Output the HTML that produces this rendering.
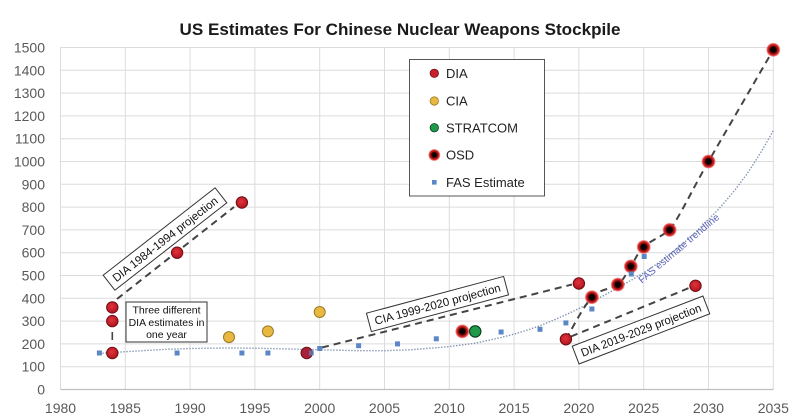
<!DOCTYPE html>
<html>
<head>
<meta charset="utf-8">
<style>
  html, body { margin:0; padding:0; background:#fff; }
  svg { display:block; }
  text { font-family: "Liberation Sans", Arial, sans-serif; }
</style>
</head>
<body>
<svg width="800" height="417" viewBox="0 0 800 417" xmlns="http://www.w3.org/2000/svg">
  <defs>
    <radialGradient id="osd" cx="50%" cy="50%" r="50%">
      <stop offset="0%" stop-color="#000"/>
      <stop offset="38%" stop-color="#140000"/>
      <stop offset="58%" stop-color="#9a1010"/>
      <stop offset="80%" stop-color="#e02a2a"/>
      <stop offset="100%" stop-color="#e84a4a" stop-opacity="0.35"/>
    </radialGradient>
    <radialGradient id="dia" cx="45%" cy="40%" r="60%">
      <stop offset="0%" stop-color="#e0343c"/>
      <stop offset="100%" stop-color="#b3131f"/>
    </radialGradient>
  </defs>
  <rect width="800" height="417" fill="#fff"/>

  <!-- Title -->
  <text x="400" y="35" text-anchor="middle" font-size="17" font-weight="bold" fill="#1a1a1a" textLength="441" lengthAdjust="spacingAndGlyphs">US Estimates For Chinese Nuclear Weapons Stockpile</text>

  <!-- Horizontal gridlines -->
  <g stroke="#dcdcdc" stroke-width="1">
    <line x1="60.5" y1="366.7" x2="773.3" y2="366.7"/>
    <line x1="60.5" y1="343.9" x2="773.3" y2="343.9"/>
    <line x1="60.5" y1="321.1" x2="773.3" y2="321.1"/>
    <line x1="60.5" y1="298.3" x2="773.3" y2="298.3"/>
    <line x1="60.5" y1="275.5" x2="773.3" y2="275.5"/>
    <line x1="60.5" y1="252.7" x2="773.3" y2="252.7"/>
    <line x1="60.5" y1="229.9" x2="773.3" y2="229.9"/>
    <line x1="60.5" y1="207.1" x2="773.3" y2="207.1"/>
    <line x1="60.5" y1="184.3" x2="773.3" y2="184.3"/>
    <line x1="60.5" y1="161.5" x2="773.3" y2="161.5"/>
    <line x1="60.5" y1="138.7" x2="773.3" y2="138.7"/>
    <line x1="60.5" y1="115.9" x2="773.3" y2="115.9"/>
    <line x1="60.5" y1="93.1" x2="773.3" y2="93.1"/>
    <line x1="60.5" y1="70.3" x2="773.3" y2="70.3"/>
    <line x1="60.5" y1="47.5" x2="773.3" y2="47.5"/>
  </g>
  <!-- Vertical gridlines -->
  <g stroke="#dcdcdc" stroke-width="1">
    <line x1="60.5" y1="47.5" x2="60.5" y2="389.5"/>
    <line x1="125.3" y1="47.5" x2="125.3" y2="389.5"/>
    <line x1="190.1" y1="47.5" x2="190.1" y2="389.5"/>
    <line x1="254.9" y1="47.5" x2="254.9" y2="389.5"/>
    <line x1="319.7" y1="47.5" x2="319.7" y2="389.5"/>
    <line x1="384.5" y1="47.5" x2="384.5" y2="389.5"/>
    <line x1="449.3" y1="47.5" x2="449.3" y2="389.5"/>
    <line x1="514.1" y1="47.5" x2="514.1" y2="389.5"/>
    <line x1="578.9" y1="47.5" x2="578.9" y2="389.5"/>
    <line x1="643.7" y1="47.5" x2="643.7" y2="389.5"/>
    <line x1="708.5" y1="47.5" x2="708.5" y2="389.5"/>
    <line x1="773.3" y1="47.5" x2="773.3" y2="389.5"/>
  </g>
  <line x1="60.5" y1="389.5" x2="773.3" y2="389.5" stroke="#bfbfbf" stroke-width="1.2"/>

  <!-- Y labels -->
  <g font-size="14" fill="#595959" text-anchor="end">
    <text x="45" y="394.5">0</text>
    <text x="45" y="371.7">100</text>
    <text x="45" y="348.9">200</text>
    <text x="45" y="326.1">300</text>
    <text x="45" y="303.3">400</text>
    <text x="45" y="280.5">500</text>
    <text x="45" y="257.7">600</text>
    <text x="45" y="234.9">700</text>
    <text x="45" y="212.1">800</text>
    <text x="45" y="189.3">900</text>
    <text x="45" y="166.5">1000</text>
    <text x="45" y="143.7">1100</text>
    <text x="45" y="120.9">1200</text>
    <text x="45" y="98.1">1300</text>
    <text x="45" y="75.3">1400</text>
    <text x="45" y="52.5">1500</text>
  </g>
  <!-- X labels -->
  <g font-size="14" fill="#595959" text-anchor="middle">
    <text x="60.5" y="413">1980</text>
    <text x="125.3" y="413">1985</text>
    <text x="190.1" y="413">1990</text>
    <text x="254.9" y="413">1995</text>
    <text x="319.7" y="413">2000</text>
    <text x="384.5" y="413">2005</text>
    <text x="449.3" y="413">2010</text>
    <text x="514.1" y="413">2015</text>
    <text x="578.9" y="413">2020</text>
    <text x="643.7" y="413">2025</text>
    <text x="708.5" y="413">2030</text>
    <text x="773.3" y="413">2035</text>
  </g>

  <!-- FAS trendline (dotted) -->
  <polyline fill="none" stroke="#8194b0" stroke-width="1.4" stroke-dasharray="1.4 1.6"
    points="99.4,353.5 125.3,351.7 164.2,349.4 190.1,348.5 229,348.0 254.9,348.2 293.8,349.1 319.7,349.8 358.6,350.7 384.5,350.7 410.4,349.8 449.3,346.6 475.2,343.2 501.1,337.5 514.1,334.1 527,330.2 540,325.7 553,320.4 565.9,314.7 578.9,308.6 591.9,301.7 604.8,294.9 617.8,287.8 630.8,280.5 643.7,272.8 656.7,264.1 669.6,254.5 682.6,244.0 695.5,232.2 708.5,219.6 721.5,206.0 734.4,190.7 747.4,173.4 760.3,153.3 773.3,130.7"/>

  <!-- Dashed projection lines -->
  <g fill="none" stroke="#444" stroke-width="2" stroke-dasharray="7 5">
    <line x1="117" y1="299" x2="234" y2="207"/>
    <line x1="112.3" y1="332" x2="112.3" y2="340" stroke-dasharray="none" stroke-width="1.6"/>
    <line x1="322" y1="347.5" x2="572" y2="284.5"/>
    <line x1="571" y1="336.5" x2="689" y2="288"/>
    <path d="M565.9,339.3 C570.2,332.3 583.25,306.3 591.9,297.2 C600.55,288.1 611.3,289.7 617.8,284.6 C624.3,279.5 626.5,272.7 630.8,266.4 C635.1,260.1 637.2,253.1 643.7,247.0 C650.2,240.9 658.8,238.2 669.6,229.9 C680.4,215.65 691.2,191.5 708.5,161.5 C725.8,131.5 762.5,68.4 773.3,49.8"/>
  </g>

  <!-- Rotated annotation boxes -->
  <g transform="translate(165,239) rotate(-38)">
    <rect x="-71" y="-9.5" width="142" height="19" fill="#fff" stroke="#333" stroke-width="1"/>
    <text x="0" y="4.2" text-anchor="middle" font-size="11.5" fill="#111" textLength="130" lengthAdjust="spacingAndGlyphs">DIA 1984-1994 projection</text>
  </g>
  <g transform="translate(437.5,304) rotate(-15)">
    <rect x="-71" y="-9.5" width="142" height="19" fill="#fff" stroke="#333" stroke-width="1"/>
    <text x="0" y="4.2" text-anchor="middle" font-size="11.5" fill="#111" textLength="130" lengthAdjust="spacingAndGlyphs">CIA 1999-2020 projection</text>
  </g>
  <g transform="translate(641,330) rotate(-21)">
    <rect x="-70" y="-9.5" width="140" height="19" fill="#fff" stroke="#333" stroke-width="1"/>
    <text x="0" y="4.2" text-anchor="middle" font-size="11.5" fill="#111" textLength="128" lengthAdjust="spacingAndGlyphs">DIA 2019-2029 projection</text>
  </g>

  <!-- Three different box -->
  <rect x="126" y="302" width="81" height="40" fill="#fff" stroke="#333" stroke-width="1"/>
  <g font-size="10.5" fill="#111" text-anchor="middle">
    <text x="166.5" y="313.5">Three different</text>
    <text x="166.5" y="326">DIA estimates in</text>
    <text x="166.5" y="338">one year</text>
  </g>

  <!-- FAS estimate trendline label -->
  <text x="681" y="251" text-anchor="middle" font-size="10" fill="#5b63b8" transform="rotate(-40 681 251)" textLength="102" lengthAdjust="spacingAndGlyphs">FAS estimate trendline</text>

  <!-- CIA markers -->
  <g fill="#e9b840" stroke="#9a7a25" stroke-width="1">
    <circle cx="229" cy="337.1" r="5.5"/>
    <circle cx="267.9" cy="331.4" r="5.5"/>
    <circle cx="319.7" cy="312.0" r="5.5"/>
  </g>
  <!-- STRATCOM -->
  <circle cx="475.2" cy="331.4" r="5.7" fill="#1f9a4a" stroke="#0c4020" stroke-width="1.2"/>

  <!-- DIA markers -->
  <g fill="url(#dia)" stroke="#6e0f15" stroke-width="1">
    <circle cx="112.3" cy="353.0" r="5.7"/>
    <circle cx="112.3" cy="321.1" r="5.7"/>
    <circle cx="112.3" cy="307.4" r="5.7"/>
    <circle cx="177.1" cy="252.7" r="5.7"/>
    <circle cx="241.9" cy="202.5" r="5.7"/>
    <circle cx="306.7" cy="353.0" r="5.7" fill="#a8203a"/>
    <circle cx="565.9" cy="339.3" r="5.7"/>
    <circle cx="578.9" cy="283.5" r="5.7"/>
    <circle cx="695.5" cy="285.8" r="5.7"/>
  </g>

  <!-- OSD markers -->
  <g fill="url(#osd)">
    <circle cx="462.3" cy="331.4" r="7"/>
    <circle cx="591.9" cy="297.2" r="7"/>
    <circle cx="617.8" cy="284.6" r="7"/>
    <circle cx="630.8" cy="266.4" r="7"/>
    <circle cx="643.7" cy="247.0" r="7"/>
    <circle cx="669.6" cy="229.9" r="7"/>
    <circle cx="708.5" cy="161.5" r="7"/>
    <circle cx="773.3" cy="49.8" r="7"/>
  </g>

  <!-- FAS squares -->
  <g fill="#5b87c6">
    <rect x="96.9" y="350.5" width="5" height="5"/>
    <rect x="174.6" y="350.5" width="5" height="5"/>
    <rect x="239.4" y="350.5" width="5" height="5"/>
    <rect x="265.4" y="350.5" width="5" height="5"/>
    <rect x="309" y="350.5" width="5" height="5" opacity="0.7"/>
    <rect x="317.2" y="346" width="5" height="5"/>
    <rect x="356.1" y="343.2" width="5" height="5"/>
    <rect x="395" y="341.4" width="5" height="5"/>
    <rect x="433.8" y="336.3" width="5" height="5"/>
    <rect x="498.6" y="329.5" width="5" height="5"/>
    <rect x="537.5" y="326.8" width="5" height="5"/>
    <rect x="563.4" y="320.4" width="5" height="5"/>
    <rect x="589.4" y="306.5" width="5" height="5"/>
    <rect x="628.8" y="271.5" width="5" height="5"/>
    <rect x="641.7" y="254" width="5" height="5"/>
  </g>

  <!-- Legend -->
  <rect x="409.5" y="59.5" width="135" height="136.5" fill="#fff" stroke="#555" stroke-width="1"/>
  <circle cx="434.3" cy="73.3" r="4.2" fill="#c8202c" stroke="#6e0f15" stroke-width="0.8"/>
  <circle cx="434.3" cy="101" r="4.2" fill="#e9b840" stroke="#9a7a25" stroke-width="0.8"/>
  <circle cx="434.3" cy="127.7" r="4.2" fill="#1f9a4a" stroke="#0c4020" stroke-width="0.8"/>
  <circle cx="434.3" cy="155" r="6" fill="url(#osd)"/>
  <rect x="432" y="180" width="4.6" height="4.6" fill="#5b87c6"/>
  <g font-size="13" fill="#222">
    <text x="446" y="78">DIA</text>
    <text x="446" y="105.7">CIA</text>
    <text x="446" y="132.4">STRATCOM</text>
    <text x="446" y="159.7">OSD</text>
    <text x="446" y="187">FAS Estimate</text>
  </g>
</svg>
</body>
</html>
